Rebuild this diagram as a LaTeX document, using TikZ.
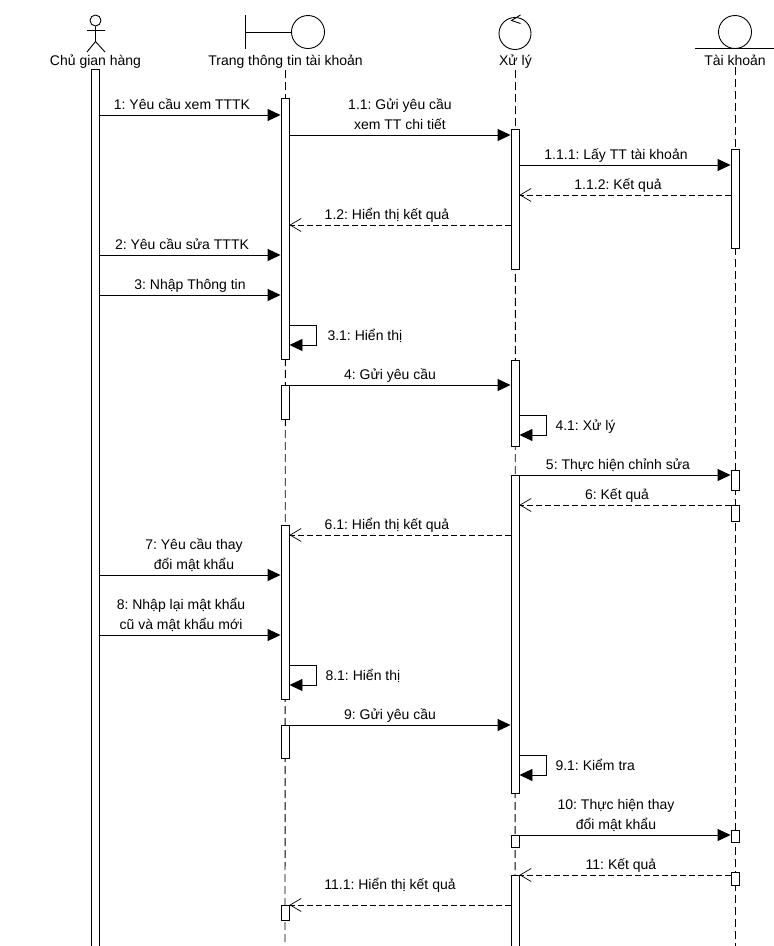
\documentclass[tikz,border=0pt]{standalone}
\usepackage{fontspec}
\setmainfont{Liberation Sans}
\usetikzlibrary{arrows.meta}
\tikzset{
  every node/.style={font=\fontsize{14}{20}\selectfont\frenchspacing},
  bar/.style={draw,fill=white,line width=0.9pt,minimum width=8,inner sep=0pt,anchor=north},
  symb/.style={draw,circle,line width=0.9pt,inner sep=0pt},
  life/.style={line width=0.9pt,dash pattern=on 8pt off 4pt},
  call/.style={line width=0.9pt,-{Triangle[length=13pt,width=12pt]}},
  back/.style={line width=0.9pt,dash pattern=on 6pt off 3pt,-{Straight Barb[length=11pt,width=13pt,line width=0.7pt]}},
  txt/.style={above=2.5pt,inner sep=0pt,text depth=3pt,align=center},
  headtxt/.style={anchor=base,inner sep=2pt},
  selftxt/.style={anchor=base west}
}

\begin{document}
\begin{tikzpicture}[x=1pt,y=-1pt]
  \useasboundingbox (0,0) rectangle (774,946);
  \clip (0,0) rectangle (774,946);

  \node[headtxt] (labA) at (95.5,65) {Chủ gian hàng};
  \node[headtxt] (labB) at (285.5,65) {Trang thông tin tài khoản};
  \node[headtxt] (labC) at (515.5,65) {Xử lý};
  \node[headtxt] (labD) at (735,65) {Tài khoản};

  \coordinate (endB) at (285,950);
  \coordinate (endC) at (515,950);
  \coordinate (endD) at (735,950);
  \draw[life] (labB.south) -- (endB);
  \draw[life] (labC.south) -- (endC);
  \draw[life] (labD.south) -- (endD);

  \node[symb,minimum size=11] (head) at (95.5,20.5) {};
  \coordinate (hip) at (95.5,41.5);
  \coordinate (armL) at (87,30.5);
  \coordinate (armR) at (105,30.5);
  \coordinate (legL) at (87,52);
  \coordinate (legR) at (105,52);
  \draw[line width=0.9pt] (head.south) -- (hip) (armL) -- (armR) (legL) -- (hip) -- (legR);

  \node[symb,minimum size=33] (symB) at (308,32) {};
  \coordinate (stemT) at (245.5,15);
  \coordinate (stemM) at (245.5,32);
  \coordinate (stemE) at (245.5,48.5);
  \draw[line width=0.9pt] (stemT) -- (stemE) (stemM) -- (symB.west);

  \node[symb,minimum size=32] (symC) at (515,33.5) {};
  \coordinate (tipA) at (520.5,15);
  \coordinate (tipB) at (511.5,20.5);
  \coordinate (tipC) at (520.5,23.5);
  \draw[line width=0.9pt] (tipA) -- (tipB) -- (tipC);

  \node[symb,minimum size=33] (symD) at (735,32) {};
  \coordinate (baseL) at (695,48.5);
  \coordinate (baseR) at (774,48.5);
  \draw[line width=0.9pt] (baseL) -- (baseR);

  \node[bar,minimum height=890] (barA) at (95,69) {};

  \node[bar,minimum height=261] (barB1) at (285,98) {};
  \node[bar,minimum height=34] (barB2) at (285,385) {};
  \node[bar,minimum height=174] (barB3) at (285,525) {};
  \node[bar,minimum height=33] (barB4) at (285,725) {};
  \node[bar,minimum height=15] (barB5) at (285,905) {};

  \node[bar,minimum height=140] (barC1) at (515,129) {};
  \node[bar,minimum height=86] (barC2) at (515,360) {};
  \node[bar,minimum height=318] (barC3) at (515,475) {};
  \node[bar,minimum height=12] (barC4) at (515,835) {};
  \node[bar,minimum height=80] (barC5) at (515,875) {};

  \node[bar,minimum height=99] (barD1) at (735,149) {};
  \node[bar,minimum height=20] (barD2) at (735,470) {};
  \node[bar,minimum height=16] (barD3) at (735,505) {};
  \node[bar,minimum height=12] (barD4) at (735,830) {};
  \node[bar,minimum height=13] (barD5) at (735,872) {};

  \path[call]
    (barA.east |- 0,115) edge node[txt,xshift=-8] {1: Yêu cầu xem TTTK} (barB1.west |- 0,115)
    (barB1.east |- 0,135) edge node[txt] {1.1: Gửi yêu cầu\\xem TT chi tiết} (barC1.west |- 0,135)
    (barC1.east |- 0,165) edge node[txt,xshift=-9] {1.1.1: Lấy TT tài khoản} (barD1.west |- 0,165)
    (barA.east |- 0,255) edge node[txt,xshift=-8] {2: Yêu cầu sửa TTTK} (barB1.west |- 0,255)
    (barA.east |- 0,295) edge node[txt] {3: Nhập Thông tin} (barB1.west |- 0,295)
    (barB2.east |- 0,385) edge node[txt,xshift=-10] {4: Gửi yêu cầu} (barC2.west |- 0,385)
    (barC3.east |- 0,475) edge node[txt,xshift=-7] {5: Thực hiện chỉnh sửa} (barD2.west |- 0,475)
    (barA.east |- 0,575) edge node[txt,xshift=4] {7: Yêu cầu thay\\đổi mật khẩu} (barB3.west |- 0,575)
    (barA.east |- 0,635) edge node[txt,xshift=-9] {8: Nhập lại mật khẩu\\cũ và mật khẩu mới} (barB3.west |- 0,635)
    (barB4.east |- 0,725) edge node[txt,xshift=-10] {9: Gửi yêu cầu} (barC3.west |- 0,725)
    (barC4.east |- 0,835) edge node[txt,xshift=-9] {10: Thực hiện thay\\đổi mật khẩu} (barD4.west |- 0,835);

  \path[back]
    (barD1.west |- 0,195) edge node[txt,xshift=-7] {1.1.2: Kết quả} (barC1.east |- 0,195)
    (barC1.west |- 0,225) edge node[txt,xshift=-13] {1.2: Hiển thị kết quả} (barB1.east |- 0,225)
    (barD3.west |- 0,505) edge node[txt,xshift=-8] {6: Kết quả} (barC3.east |- 0,505)
    (barC3.west |- 0,535) edge node[txt,xshift=-13] {6.1: Hiển thị kết quả} (barB3.east |- 0,535)
    (barD5.west |- 0,875) edge node[txt,xshift=-4] {11: Kết quả} (barC5.east |- 0,875)
    (barC5.west |- 0,905) edge node[txt,xshift=-10,yshift=10] {11.1: Hiển thị kết quả} (barB5.east |- 0,905);

  \draw[call] (barB1.east |- 0,325) -- ++(27,0) -- ++(0,20) -- (barB1.east |- 0,345);
  \node[selftxt] (lab31) at (324,340) {3.1: Hiển thị};
  \draw[call] (barC2.east |- 0,415) -- ++(27,0) -- ++(0,20) -- (barC2.east |- 0,435);
  \node[selftxt] (lab41) at (552,430) {4.1: Xử lý};
  \draw[call] (barB3.east |- 0,665) -- ++(27,0) -- ++(0,20) -- (barB3.east |- 0,685);
  \node[selftxt] (lab81) at (322,680) {8.1: Hiển thị};
  \draw[call] (barC3.east |- 0,755) -- ++(27,0) -- ++(0,20) -- (barC3.east |- 0,775);
  \node[selftxt] (lab91) at (552,770) {9.1: Kiểm tra};
\end{tikzpicture}
\end{document}
